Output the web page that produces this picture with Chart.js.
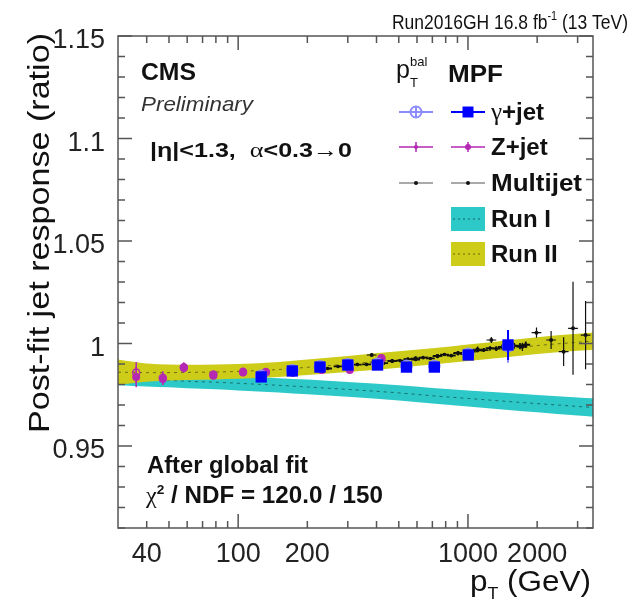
<!DOCTYPE html>
<html>
<head>
<meta charset="utf-8">
<title>Post-fit jet response</title>
<script src="https://cdn.jsdelivr.net/npm/chart.js@4.4.1/dist/chart.umd.min.js"></script>
<style>
  html, body { margin: 0; padding: 0; background: #fff; }
  canvas { display: block; }
</style>
</head>
<body>
<canvas id="jes" width="639" height="603"></canvas>
<script>
// pT in GeV, responses as ratios, errors are +- on the ratio
const gamPt = [126, 172, 227, 300, 404, 540, 714, 1003, 1494];
const gamMpf = [0.9837, 0.9866, 0.9885, 0.9895, 0.9895, 0.9885, 0.9885, 0.9944, 0.9993];
const gamMpfErr = [0.0007, 0.0007, 0.0007, 0.0008, 0.0009, 0.0011, 0.0014, 0.0025, 0.0073];
const gamBal = [0.9843, 0.9870, 0.9889, 0.9899, 0.9901, 0.9891, 0.9890, 0.9950, 0.9986];
const gamBalErr = [0.0008, 0.0008, 0.0008, 0.0009, 0.0010, 0.0012, 0.0016, 0.0028, 0.0080];

const zPt = [36, 47, 58, 78, 105, 132, 173, 231, 306, 420];
const zMpf = [0.9837, 0.9827, 0.9880, 0.9843, 0.9858, 0.9858, 0.9856, 0.9871, 0.9871, 0.9929];
const zMpfErr = [0.0050, 0.0030, 0.0022, 0.0016, 0.0014, 0.0013, 0.0013, 0.0014, 0.0016, 0.0020];
const zBal = [0.9858, 0.9833, 0.9884, 0.9849, 0.9862, 0.9861, 0.9862, 0.9875, 0.9878, 0.9924];
const zBalErr = [0.0052, 0.0032, 0.0024, 0.0017, 0.0015, 0.0014, 0.0014, 0.0015, 0.0018, 0.0022];

const mjMpfPt = [245, 272, 300, 330, 362, 395, 430, 468, 507, 548, 592, 638, 686, 737, 790, 846, 905, 967, 1032, 1101, 1172, 1248, 1327, 1410, 1497, 1588, 1684, 1784];
const mjMpf = [0.9878, 0.9888, 0.9886, 0.9897, 0.9898, 0.9906, 0.9904, 0.9914, 0.9916, 0.9924, 0.9922, 0.9931, 0.9927, 0.9940, 0.9946, 0.9941, 0.9954, 0.9948, 0.9960, 0.9966, 0.9968, 0.9977, 0.9975, 0.9983, 0.9982, 0.9989, 0.9987, 0.9994];
const mjMpfErr = [0.0006, 0.0006, 0.0006, 0.0006, 0.0006, 0.0006, 0.0006, 0.0006, 0.0006, 0.0006, 0.0006, 0.0007, 0.0007, 0.0007, 0.0007, 0.0008, 0.0008, 0.0008, 0.0009, 0.0009, 0.0010, 0.0010, 0.0011, 0.0012, 0.0013, 0.0014, 0.0015, 0.0016];

const mjBalPt = [300, 381, 468, 592, 737, 905, 1101, 1264, 1497, 1725, 1987, 2300, 2608, 2865, 3249];
const mjBal = [0.9893, 0.9944, 0.9915, 0.9928, 0.9938, 0.9952, 0.9972, 1.0017, 0.9986, 0.9984, 1.0053, 1.0017, 0.9960, 1.0074, 1.0041];
const mjBalErr = [0.0008, 0.0008, 0.0008, 0.0009, 0.0010, 0.0011, 0.0013, 0.0015, 0.0018, 0.0020, 0.0025, 0.0044, 0.0070, 0.0227, 0.0166];

// fitted response bands: central value and half width
const bandPt = [30, 35, 40, 50, 60, 80, 100, 150, 200, 300, 500, 700, 1000, 1500, 2000, 3000, 3500];
const run1 = [0.9830, 0.9827, 0.9824, 0.9820, 0.9816, 0.9811, 0.9806, 0.9796, 0.9788, 0.9776, 0.9759, 0.9745, 0.9732, 0.9717, 0.9707, 0.9693, 0.9688];
const run1Err = [0.0034, 0.0034, 0.0034, 0.0034, 0.0034, 0.0034, 0.0035, 0.0035, 0.0036, 0.0036, 0.0037, 0.0038, 0.0039, 0.0041, 0.0042, 0.0044, 0.0045];
const run2 = [0.9860, 0.9859, 0.9858, 0.9858, 0.9859, 0.9861, 0.9864, 0.9873, 0.9884, 0.9900, 0.9922, 0.9937, 0.9955, 0.9975, 0.9990, 1.0006, 1.0012];
const run2Err = [0.0062, 0.0052, 0.0045, 0.0039, 0.0037, 0.0036, 0.0036, 0.0037, 0.0038, 0.0039, 0.0040, 0.0040, 0.0040, 0.0041, 0.0041, 0.0041, 0.0042];

const xTickVals = [40, 50, 60, 70, 80, 90, 100, 200, 300, 400, 500, 600, 700, 800, 900, 1000, 2000, 3000];
const xLabels = [40, 100, 200, 1000, 2000];

const SANS = "'Liberation Sans', Arial, Helvetica, sans-serif";
const SERIF = "'Liberation Serif', 'Times New Roman', serif";
const CYAN = 'rgb(45, 200, 200)';
const YELLOW = 'rgb(204, 204, 25)';
const BLUE = '#0000ff';
const LIGHTBLUE = '#8c8cff';
const MAGENTA = 'rgb(180, 40, 180)';

Chart.defaults.font.family = SANS;

const pts = (xs, ys) => xs.map((x, i) => ({ x, y: ys[i] }));
const band = (vals, errs, sign) => bandPt.map((x, i) => ({ x, y: vals[i] + sign * errs[i] }));

// vertical error bars (and optional horizontal bin bars) under the markers
const errorBars = {
  id: 'errorBars',
  beforeDatasetDraw(chart, args) {
    const ds = chart.data.datasets[args.index];
    if (!ds.yErr) return;
    const { ctx, chartArea: a, scales: { x, y } } = chart;
    ctx.save();
    ctx.beginPath();
    ctx.rect(a.left, a.top, a.right - a.left, a.bottom - a.top);
    ctx.clip();
    ctx.strokeStyle = ds.barColor;
    ctx.lineWidth = ds.barWidth;
    ctx.beginPath();
    ds.data.forEach((p, i) => {
      const px = x.getPixelForValue(p.x);
      const py = y.getPixelForValue(p.y);
      ctx.moveTo(px, y.getPixelForValue(p.y - ds.yErr[i]));
      ctx.lineTo(px, y.getPixelForValue(p.y + ds.yErr[i]));
      if (ds.xSpread) {
        ctx.moveTo(x.getPixelForValue(p.x / ds.xSpread), py);
        ctx.lineTo(x.getPixelForValue(p.x * ds.xSpread), py);
      }
    });
    ctx.stroke();
    ctx.restore();
  }
};

// ROOT style frame with inward ticks on all four sides
const frame = {
  id: 'frame',
  afterDraw(chart) {
    const { ctx, chartArea: a, scales: { x, y } } = chart;
    ctx.save();
    ctx.strokeStyle = '#555';
    ctx.lineWidth = 1.5;
    ctx.strokeRect(a.left, a.top, a.right - a.left, a.bottom - a.top);
    ctx.beginPath();
    x.ticks.forEach(t => {
      const px = x.getPixelForValue(t.value);
      const len = (t.value === 100 || t.value === 1000) ? 14 : 7;
      ctx.moveTo(px, a.bottom); ctx.lineTo(px, a.bottom - len);
      ctx.moveTo(px, a.top); ctx.lineTo(px, a.top + len);
    });
    y.ticks.forEach(t => {
      const py = y.getPixelForValue(t.value);
      const major = Math.abs(t.value * 20 - Math.round(t.value * 20)) < 1e-6;
      const len = major ? 14 : 7;
      ctx.moveTo(a.left, py); ctx.lineTo(a.left + len, py);
      ctx.moveTo(a.right, py); ctx.lineTo(a.right - len, py);
    });
    ctx.stroke();
    ctx.restore();
  }
};

function runsWidth(ctx, parts) {
  let w = 0;
  for (const p of parts) { ctx.font = p.font; w += ctx.measureText(p.text).width; }
  return w;
}

// draws a sequence of text runs, squeezed to a target width when given
function drawRuns(ctx, x, y, parts, width) {
  const natural = runsWidth(ctx, parts);
  const sx = width ? width / natural : 1;
  ctx.save();
  ctx.translate(x, y);
  ctx.scale(sx, 1);
  let cx = 0;
  for (const p of parts) {
    ctx.font = p.font;
    ctx.fillText(p.text, cx, p.dy || 0);
    cx += ctx.measureText(p.text).width;
  }
  ctx.restore();
}

const labels = {
  id: 'labels',
  afterDraw(chart) {
    const { ctx } = chart;
    ctx.save();
    ctx.fillStyle = '#111';
    ctx.textAlign = 'left';
    ctx.textBaseline = 'alphabetic';

    drawRuns(ctx, 392, 29, [
      { text: 'Run2016GH 16.8 fb', font: `21px ${SANS}` },
      { text: '-1', font: `13px ${SANS}`, dy: -9 },
      { text: ' (13 TeV)', font: `21px ${SANS}` }
    ], 236);

    drawRuns(ctx, 141, 80, [{ text: 'CMS', font: `bold 24px ${SANS}` }], 55);
    ctx.fillStyle = '#333';
    drawRuns(ctx, 141, 111, [{ text: 'Preliminary', font: `italic 21px ${SANS}` }], 112);
    ctx.fillStyle = '#111';
    drawRuns(ctx, 150, 157, [
      { text: '|\u03b7|<1.3,  ', font: `bold 21px ${SANS}` },
      { text: '\u03b1', font: `22px ${SERIF}` },
      { text: '<0.3\u21920', font: `bold 21px ${SANS}` }
    ], 202);

    drawRuns(ctx, 147, 473, [{ text: 'After global fit', font: `bold 23px ${SANS}` }], 161);
    drawRuns(ctx, 146, 503, [
      { text: '\u03c7', font: `23px ${SERIF}` },
      { text: '2', font: `bold 13px ${SANS}`, dy: -9 },
      { text: ' / NDF = 120.0 / 150', font: `bold 23px ${SANS}` }
    ], 237);

    // axis titles
    drawRuns(ctx, 470, 591, [
      { text: 'p', font: `30px ${SANS}` },
      { text: 'T', font: `17px ${SANS}`, dy: 8 },
      { text: ' (GeV)', font: `30px ${SANS}` }
    ], 121);

    ctx.save();
    ctx.translate(41, 233);
    ctx.rotate(-Math.PI / 2);
    ctx.font = `30px ${SANS}`;
    ctx.textAlign = 'center';
    ctx.textBaseline = 'middle';
    const ytitle = 'Post-fit jet response (ratio)';
    ctx.scale(400 / ctx.measureText(ytitle).width, 1);
    ctx.fillText(ytitle, 0, 0);
    ctx.restore();

    // legend header
    ctx.font = `25px ${SANS}`;
    ctx.fillText('p', 396, 78);
    ctx.font = `13px ${SANS}`;
    ctx.fillText('T', 410, 87);
    ctx.fillText('bal', 410, 66);
    drawRuns(ctx, 448, 82, [{ text: 'MPF', font: `bold 24px ${SANS}` }], 55);

    const rows = [112, 147, 183, 219, 254];
    const c1 = 416, c2 = 468, half = 17;

    // gamma+jet
    ctx.lineWidth = 2;
    ctx.strokeStyle = LIGHTBLUE;
    ctx.beginPath();
    ctx.moveTo(c1 - half, rows[0]); ctx.lineTo(c1 + half, rows[0]);
    ctx.moveTo(c1, rows[0] - 6); ctx.lineTo(c1, rows[0] + 6);
    ctx.stroke();
    ctx.beginPath(); ctx.arc(c1, rows[0], 5.5, 0, Math.PI * 2); ctx.stroke();
    ctx.strokeStyle = BLUE; ctx.fillStyle = BLUE;
    ctx.beginPath();
    ctx.moveTo(c2 - half, rows[0]); ctx.lineTo(c2 + half, rows[0]);
    ctx.stroke();
    ctx.fillRect(c2 - 5.5, rows[0] - 5.5, 11, 11);

    // Z+jet
    ctx.strokeStyle = MAGENTA; ctx.fillStyle = MAGENTA; ctx.lineWidth = 1.5;
    [c1, c2].forEach((c, k) => {
      ctx.beginPath();
      ctx.moveTo(c - half, rows[1]); ctx.lineTo(c + half, rows[1]);
      ctx.moveTo(c, rows[1] - 5); ctx.lineTo(c, rows[1] + 5);
      ctx.stroke();
      ctx.beginPath(); ctx.arc(c, rows[1], k ? 3 : 2, 0, Math.PI * 2); ctx.fill();
    });

    // multijet
    ctx.strokeStyle = '#555'; ctx.fillStyle = '#111'; ctx.lineWidth = 1.2;
    [c1, c2].forEach(c => {
      ctx.beginPath();
      ctx.moveTo(c - half, rows[2]); ctx.lineTo(c + half, rows[2]);
      ctx.stroke();
      ctx.beginPath(); ctx.arc(c, rows[2], 2, 0, Math.PI * 2); ctx.fill();
    });

    // fit bands
    [[CYAN, rows[3]], [YELLOW, rows[4]]].forEach(([col, ry]) => {
      ctx.fillStyle = col;
      ctx.fillRect(c2 - half, ry - 12, 2 * half, 24);
      ctx.strokeStyle = 'rgba(0,0,0,0.5)'; ctx.lineWidth = 1;
      ctx.setLineDash([2, 3]);
      ctx.beginPath(); ctx.moveTo(c2 - half + 2, ry); ctx.lineTo(c2 + half - 2, ry); ctx.stroke();
      ctx.setLineDash([]);
    });

    ctx.fillStyle = '#111';
    const lf = `bold 24px ${SANS}`;
    drawRuns(ctx, 491, rows[0] + 8, [{ text: '\u03b3', font: `25px ${SERIF}` }, { text: '+jet', font: lf }]);
    drawRuns(ctx, 491, rows[1] + 8, [{ text: 'Z+jet', font: lf }]);
    drawRuns(ctx, 491, rows[2] + 8, [{ text: 'Multijet', font: lf }], 91);
    drawRuns(ctx, 491, rows[3] + 8, [{ text: 'Run I', font: lf }]);
    drawRuns(ctx, 491, rows[4] + 8, [{ text: 'Run II', font: lf }]);
    ctx.restore();
  }
};

const bandLine = { type: 'line', pointRadius: 0, borderWidth: 0, cubicInterpolationMode: 'monotone' };

const datasets = [
  { ...bandLine, label: 'Run I low', data: band(run1, run1Err, -1), fill: false, order: 30 },
  { ...bandLine, label: 'Run I', data: band(run1, run1Err, 1), fill: '-1', backgroundColor: CYAN, order: 30 },
  { ...bandLine, label: 'Run I fit', data: band(run1, run1Err, 0), borderWidth: 1, borderColor: 'rgba(0,0,0,0.45)', borderDash: [3, 4], order: 29 },
  { ...bandLine, label: 'Run II low', data: band(run2, run2Err, -1), fill: false, order: 28 },
  { ...bandLine, label: 'Run II', data: band(run2, run2Err, 1), fill: '-1', backgroundColor: YELLOW, order: 28 },
  { ...bandLine, label: 'Run II fit', data: band(run2, run2Err, 0), borderWidth: 1, borderColor: 'rgba(0,0,0,0.45)', borderDash: [3, 4], order: 27 },
  {
    label: 'Multijet MPF', data: pts(mjMpfPt, mjMpf), yErr: mjMpfErr, xSpread: 1.045,
    barColor: '#111', barWidth: 1.8, pointStyle: 'circle', pointRadius: 1.8,
    backgroundColor: '#111', borderWidth: 0, order: 10
  },
  {
    label: 'Multijet pT bal', data: pts(mjBalPt, mjBal), yErr: mjBalErr, xSpread: 1.05,
    barColor: '#111', barWidth: 1.2, pointStyle: 'circle', pointRadius: 2,
    backgroundColor: '#111', borderWidth: 0, order: 9
  },
  {
    label: 'Z+jet pT bal', data: pts(zPt, zBal), yErr: zBalErr,
    barColor: MAGENTA, barWidth: 1.5, pointStyle: 'circle', pointRadius: 3.5,
    backgroundColor: 'rgba(0,0,0,0)', borderColor: MAGENTA, borderWidth: 1.5, order: 8
  },
  {
    label: 'Z+jet MPF', data: pts(zPt, zMpf), yErr: zMpfErr,
    barColor: MAGENTA, barWidth: 1.5, pointStyle: 'circle', pointRadius: 4,
    backgroundColor: MAGENTA, borderWidth: 0, order: 7
  },
  {
    label: 'gamma+jet pT bal', data: pts(gamPt, gamBal), yErr: gamBalErr,
    barColor: LIGHTBLUE, barWidth: 2, pointStyle: 'circle', pointRadius: 5.5,
    backgroundColor: 'rgba(0,0,0,0)', borderColor: LIGHTBLUE, borderWidth: 1.5, order: 6
  },
  {
    label: 'gamma+jet MPF', data: pts(gamPt, gamMpf), yErr: gamMpfErr,
    barColor: BLUE, barWidth: 2, pointStyle: 'rect', pointRadius: 8,
    backgroundColor: BLUE, borderWidth: 0, order: 5
  }
];

new Chart(document.getElementById('jes'), {
  type: 'scatter',
  data: { datasets },
  options: {
    responsive: false,
    animation: false,
    events: [],
    layout: { padding: { top: 36, right: 46, left: 0, bottom: 0 } },
    plugins: { legend: { display: false }, tooltip: { enabled: false } },
    scales: {
      x: {
        type: 'logarithmic',
        min: 30,
        max: 3500,
        afterBuildTicks: s => { s.ticks = xTickVals.map(v => ({ value: v })); },
        afterFit: s => { s.height = 75; },
        grid: { display: false },
        border: { display: false },
        ticks: {
          autoSkip: false, maxRotation: 0, padding: 2, color: '#222',
          font: { size: 27 },
          callback: v => xLabels.includes(v) ? String(v) : ''
        }
      },
      y: {
        min: 0.91,
        max: 1.15,
        afterFit: s => { s.width = 118; },
        grid: { display: false },
        border: { display: false },
        ticks: {
          stepSize: 0.01, autoSkip: false, padding: 5, color: '#222',
          font: { size: 27 }, labelOffset: 5,
          callback: v => Math.abs(v * 20 - Math.round(v * 20)) < 1e-6 ? String(Number(v.toFixed(2))) : ''
        }
      }
    }
  },
  plugins: [errorBars, frame, labels]
});
</script>
</body>
</html>
